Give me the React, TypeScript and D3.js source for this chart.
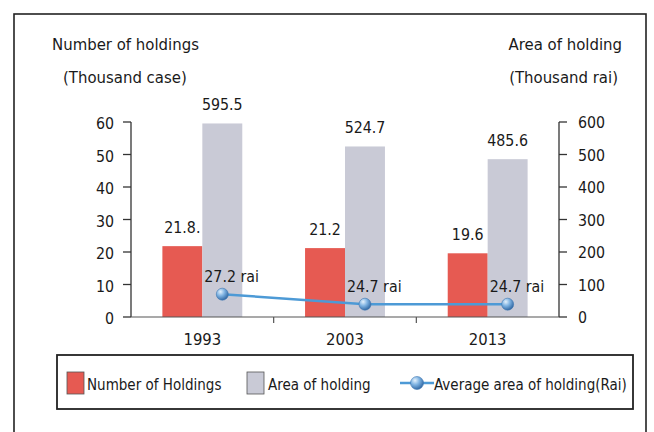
import React from "react";
import * as d3 from "d3";

const years = ["1993", "2003", "2013"];
const holdings = [21.8, 21.2, 19.6];
const holdingLabels = ["21.8.", "21.2", "19.6"];
const area = [595.5, 524.7, 485.6];
const areaLabels = ["595.5", "524.7", "485.6"];
const avgArea = [27.2, 24.7, 24.7];
const avgLabels = ["27.2 rai", "24.7 rai", "24.7 rai"];
const leftTicks = [0, 10, 20, 30, 40, 50, 60];
const rightTicks = [0, 100, 200, 300, 400, 500, 600];

const W = 654;
const H = 432;
const FONT = "'DejaVu Sans Condensed', 'DejaVu Sans', sans-serif";
const RED = "#e65a52";
const GRAY = "#c9cad6";
const BLUE = "#4d9ad6";
const TXT = "#1a1a1a";

export default function App() {
  const x = d3.scaleBand<string>().domain(years).range([131, 559]);
  const yL = d3.scaleLinear().domain([0, 60]).range([317, 122]);
  const yR = d3.scaleLinear().domain([0, 600]).range([317, 122]);
  const yAvg = d3.scaleLinear().domain([0, 70]).range([403, 123]);
  const bw = x.bandwidth() * 0.28;
  const center = (y: string) => (x(y) as number) + x.bandwidth() / 2;

  const linePts: [number, number][] = years.map((yr, i) => [center(yr) + bw / 2, yAvg(avgArea[i])]);
  const line = d3.line();

  const x0 = x.range()[0];
  const x1 = x.range()[1];

  return (
    <div style={{ position: "absolute", left: 0, top: 0, width: W, height: H, background: "#fff" }}>
      <svg width={W} height={H} style={{ display: "block", fontFamily: FONT, fontStretch: "condensed" }}>
        <defs>
          <radialGradient id="ball" cx="35%" cy="30%" r="75%">
            <stop offset="0%" stopColor="#e4f1fc" />
            <stop offset="45%" stopColor="#7fb3e2" />
            <stop offset="100%" stopColor="#2c639f" />
          </radialGradient>
        </defs>
        <rect x={0} y={0} width={W} height={H} fill="#fff" />
        <rect x={14} y={14} width={632} height={440} fill="none" stroke="#222" strokeWidth={1.6} />

        {/* titles */}
        <text x={52} y={50} fontSize={16.6} fill={TXT}>Number of holdings</text>
        <text x={63} y={83} fontSize={16.6} fill={TXT}>(Thousand case)</text>
        <text x={622} y={50} fontSize={16.6} fill={TXT} textAnchor="end">Area of holding</text>
        <text x={618} y={83} fontSize={16.6} fill={TXT} textAnchor="end">(Thousand rai)</text>

        {/* bars */}
        {years.map((yr, i) => (
          <g key={yr}>
            <rect x={center(yr) - bw} y={yL(holdings[i])} width={bw} height={yL(0) - yL(holdings[i])} fill={RED} />
            <rect x={center(yr)} y={yR(area[i])} width={bw} height={yR(0) - yR(area[i])} fill={GRAY} />
            <text x={center(yr) - bw / 2} y={yL(holdings[i]) - 13} fontSize={15.8} fill={TXT} textAnchor="middle">{holdingLabels[i]}</text>
            <text x={center(yr) + bw / 2} y={yR(area[i]) - 13} fontSize={15.8} fill={TXT} textAnchor="middle">{areaLabels[i]}</text>
            <text x={center(yr)} y={345} fontSize={16.5} fill={TXT} textAnchor="middle">{yr}</text>
          </g>
        ))}

        {/* axes */}
        <line x1={x0} x2={x0} y1={yL(60)} y2={yL(0)} stroke="#333" strokeWidth={1.3} />
        <line x1={x1} x2={x1} y1={yR(600)} y2={yR(0)} stroke="#333" strokeWidth={1.3} />
        <line x1={x0} x2={x1} y1={yL(0)} y2={yL(0)} stroke="#555" strokeWidth={1.2} />
        {leftTicks.map((t) => (
          <g key={"l" + t}>
            <line x1={x0 - 8} x2={x0} y1={yL(t)} y2={yL(t)} stroke="#333" strokeWidth={1.3} />
            <text x={114} y={yL(t) + 7} fontSize={15.8} fill={TXT} textAnchor="end">{t}</text>
          </g>
        ))}
        {rightTicks.map((t) => (
          <g key={"r" + t}>
            <line x1={x1} x2={x1 + 8} y1={yR(t)} y2={yR(t)} stroke="#333" strokeWidth={1.3} />
            <text x={578} y={yR(t) + 6} fontSize={15.8} fill={TXT}>{t}</text>
          </g>
        ))}
        {years.slice(1).map((yr) => (
          <line key={"t" + yr} x1={x(yr) as number} x2={x(yr) as number} y1={yL(0)} y2={yL(0) + 6} stroke="#555" strokeWidth={1.2} />
        ))}

        {/* line series */}
        <path d={line(linePts) || ""} fill="none" stroke={BLUE} strokeWidth={2.5} />
        {linePts.map((p, i) => (
          <g key={"p" + i}>
            <circle cx={p[0]} cy={p[1]} r={6} fill="url(#ball)" stroke="#3f78b3" strokeWidth={0.6} />
            <text x={p[0] - 18} y={p[1] - 12} fontSize={15.8} fill={TXT}>{avgLabels[i]}</text>
          </g>
        ))}

        {/* legend */}
        <rect x={57} y={355} width={576} height={54} fill="#fff" stroke="#222" strokeWidth={1.8} />
        <rect x={67} y={372} width={17} height={22} fill={RED} stroke="#555" strokeWidth={0.8} />
        <text x={87} y={390} fontSize={15} fill={TXT}>Number of Holdings</text>
        <rect x={247} y={372} width={17} height={22} fill={GRAY} stroke="#555" strokeWidth={0.8} />
        <text x={268} y={390} fontSize={15} fill={TXT}>Area of holding</text>
        <line x1={400} x2={434} y1={383} y2={383} stroke={BLUE} strokeWidth={2.5} />
        <circle cx={417} cy={383} r={6.5} fill="url(#ball)" stroke="#3f78b3" strokeWidth={0.6} />
        <text x={434} y={390} fontSize={15} fill={TXT}>Average area of holding(Rai)</text>
      </svg>
    </div>
  );
}
